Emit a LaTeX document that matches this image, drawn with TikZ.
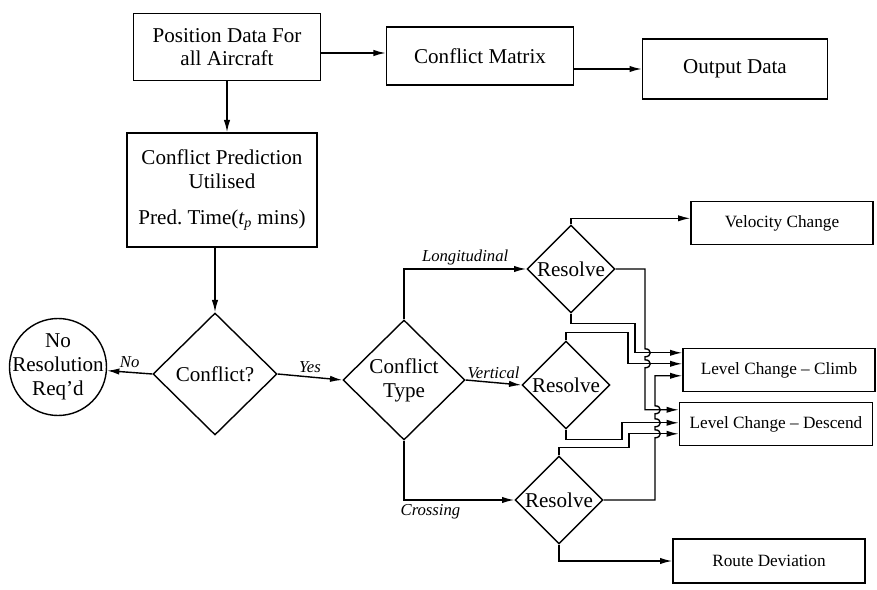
\documentclass[tikz,border=0pt]{standalone}
\usepackage{fontspec}
\setmainfont{Liberation Serif}
\usetikzlibrary{shapes.geometric, arrows.meta, calc, positioning}

\begin{document}
\begin{tikzpicture}[x=0.2mm, y=-0.2mm,
  flowbox/.style={draw, line width=0.8pt, align=center, inner sep=1pt, font=\fontsize{12}{13.5}\selectfont},
  smallbox/.style={draw, line width=0.8pt, inner sep=1pt, minimum height=8.6mm, font=\fontsize{9.8}{11}\selectfont},
  decision/.style={draw, diamond, line width=0.8pt, align=center, inner sep=0pt, font=\fontsize{12}{13.5}\selectfont},
  branch/.style={font=\itshape\fontsize{9.5}{11}\selectfont, inner sep=2pt},
  arr/.style={line width=0.8pt, -{Latex[length=7pt, width=3.6pt]}}
]
  \useasboundingbox (0,0) rectangle (877,590);

  % Top row
  \node[flowbox, minimum width=37.4mm, minimum height=13.4mm] (pos) at (227,47) {Position Data For\\all Aircraft};
  \node[flowbox, minimum width=37.4mm, minimum height=11.6mm] (matrix) at (480,56) {Conflict Matrix};
  \node[flowbox, minimum width=37mm, minimum height=12mm] (output) at (735,69) {Output Data};

  % Prediction and first decision
  \node[flowbox, minimum width=38mm, minimum height=22.8mm] (pred) at (222,190)
    {Conflict Prediction\\Utilised\\[7pt]Pred.\ Time(\textit{t\textsubscript{p}} mins)};
  \node[decision, minimum width=24.8mm, minimum height=24.4mm] (conf) at (215,374) {Conflict?};
  \node[draw, circle, line width=0.8pt, minimum size=19.4mm,
    label={[align=center, font=\fontsize{12}{13.5}\selectfont]center:No\\Resolution\\Req’d}] (nores) at (58,367) {};

  % Conflict type and resolvers
  \node[decision, minimum width=24.4mm, minimum height=24mm] (ctype) at (404,380) {Conflict\\Type};
  \node[decision, minimum width=17.6mm, minimum height=17.6mm] (r1) at (571,269) {Resolve};
  \node[decision, minimum width=17.6mm, minimum height=17.6mm] (r2) at (566,385) {Resolve};
  \node[decision, minimum width=17.6mm, minimum height=17.6mm] (r3) at (559,500) {Resolve};

  % Manoeuvre boxes
  \node[smallbox, minimum width=36.4mm] (vel) at (782,223) {Velocity Change};
  \node[smallbox, minimum width=38.4mm] (climb) at (779,370) {Level Change -- Climb};
  \node[smallbox, minimum width=38.6mm] (desc) at (776,424) {Level Change -- Descend};
  \node[smallbox, minimum width=38.4mm, minimum height=8.8mm] (route) at (769,561) {Route Deviation};

  % Entry points and lanes
  \coordinate (cl1) at ($(climb.north west)+(0,5)$);
  \coordinate (cl2) at ($(climb.north west)+(0,16)$);
  \coordinate (cl3) at ($(climb.north west)+(0,28)$);
  \coordinate (de1) at ($(desc.north west)+(0,8)$);
  \coordinate (de2) at ($(desc.north west)+(0,21)$);
  \coordinate (de3) at ($(desc.north west)+(0,32)$);
  \coordinate (la) at (635,0);
  \coordinate (lb) at (628,0);
  \coordinate (lc) at (645,0);
  \coordinate (ld) at (622,0);
  \coordinate (le) at (629,0);
  \coordinate (lf) at (655,0);
  \coordinate (p1) at ($(pos.east)+(0,6)$);

  % Main flow
  \draw[arr] (p1) -- (p1 -| matrix.west);
  \draw[arr] (output.west -| matrix.east) -- (output.west);
  \draw[arr] (pos.south) -- (pos.south |- pred.north);
  \draw[arr] (pred.south -| conf.north) -- (conf.north);
  \draw[arr] (conf.west) -- (nores) node[branch, midway, above] {No};
  \draw[arr] (conf.east) -- (ctype.west) node[branch, midway, above] {Yes};

  % Conflict type branches
  \draw[arr] (ctype.north) |- (r1.west) node[branch, pos=0.75, above] {Longitudinal};
  \draw[arr] (ctype.east) -- (r2.west) node[branch, midway, above] {Vertical};
  \draw[arr] (ctype.south) |- (r3.west) node[branch, pos=0.62, below] {Crossing};

  % Resolver outputs
  \draw[arr] (r1.north) -- ++(0,-6) coordinate (vtop) -- (vtop -| vel.west);
  \draw[arr] (r1.south) -- ++(0,10) -| (la |- cl1) -- (cl1);
  \draw[arr] (r1.east) -| ($(lc |- cl1)+(0,-4)$)
    .. controls +(7,0) and +(7,0) .. ($(lc |- cl1)+(0,4)$)
    -- ($(lc |- cl2)+(0,-4)$)
    .. controls +(7,0) and +(7,0) .. ($(lc |- cl2)+(0,4)$)
    |- (de1);
  \draw[arr] (r2.north) -- ++(0,-8) -| (lb |- cl2) -- (cl2);
  \draw[arr] (r2.south) -- ++(0,10) -| (ld |- de2) -- (de2);
  \draw[arr] (r3.north) -- ++(0,-8) -| (le |- de3) -- (de3);
  \draw[arr] (r3.east) -| ($(lf |- de3)+(0,4)$)
    .. controls +(7,0) and +(7,0) .. ($(lf |- de3)+(0,-4)$)
    -- ($(lf |- de2)+(0,4)$)
    .. controls +(7,0) and +(7,0) .. ($(lf |- de2)+(0,-4)$)
    -- ($(lf |- de1)+(0,4)$)
    .. controls +(7,0) and +(7,0) .. ($(lf |- de1)+(0,-4)$)
    |- (cl3);
  \draw[arr] (r3.south) |- (route.west);
\end{tikzpicture}
\end{document}
